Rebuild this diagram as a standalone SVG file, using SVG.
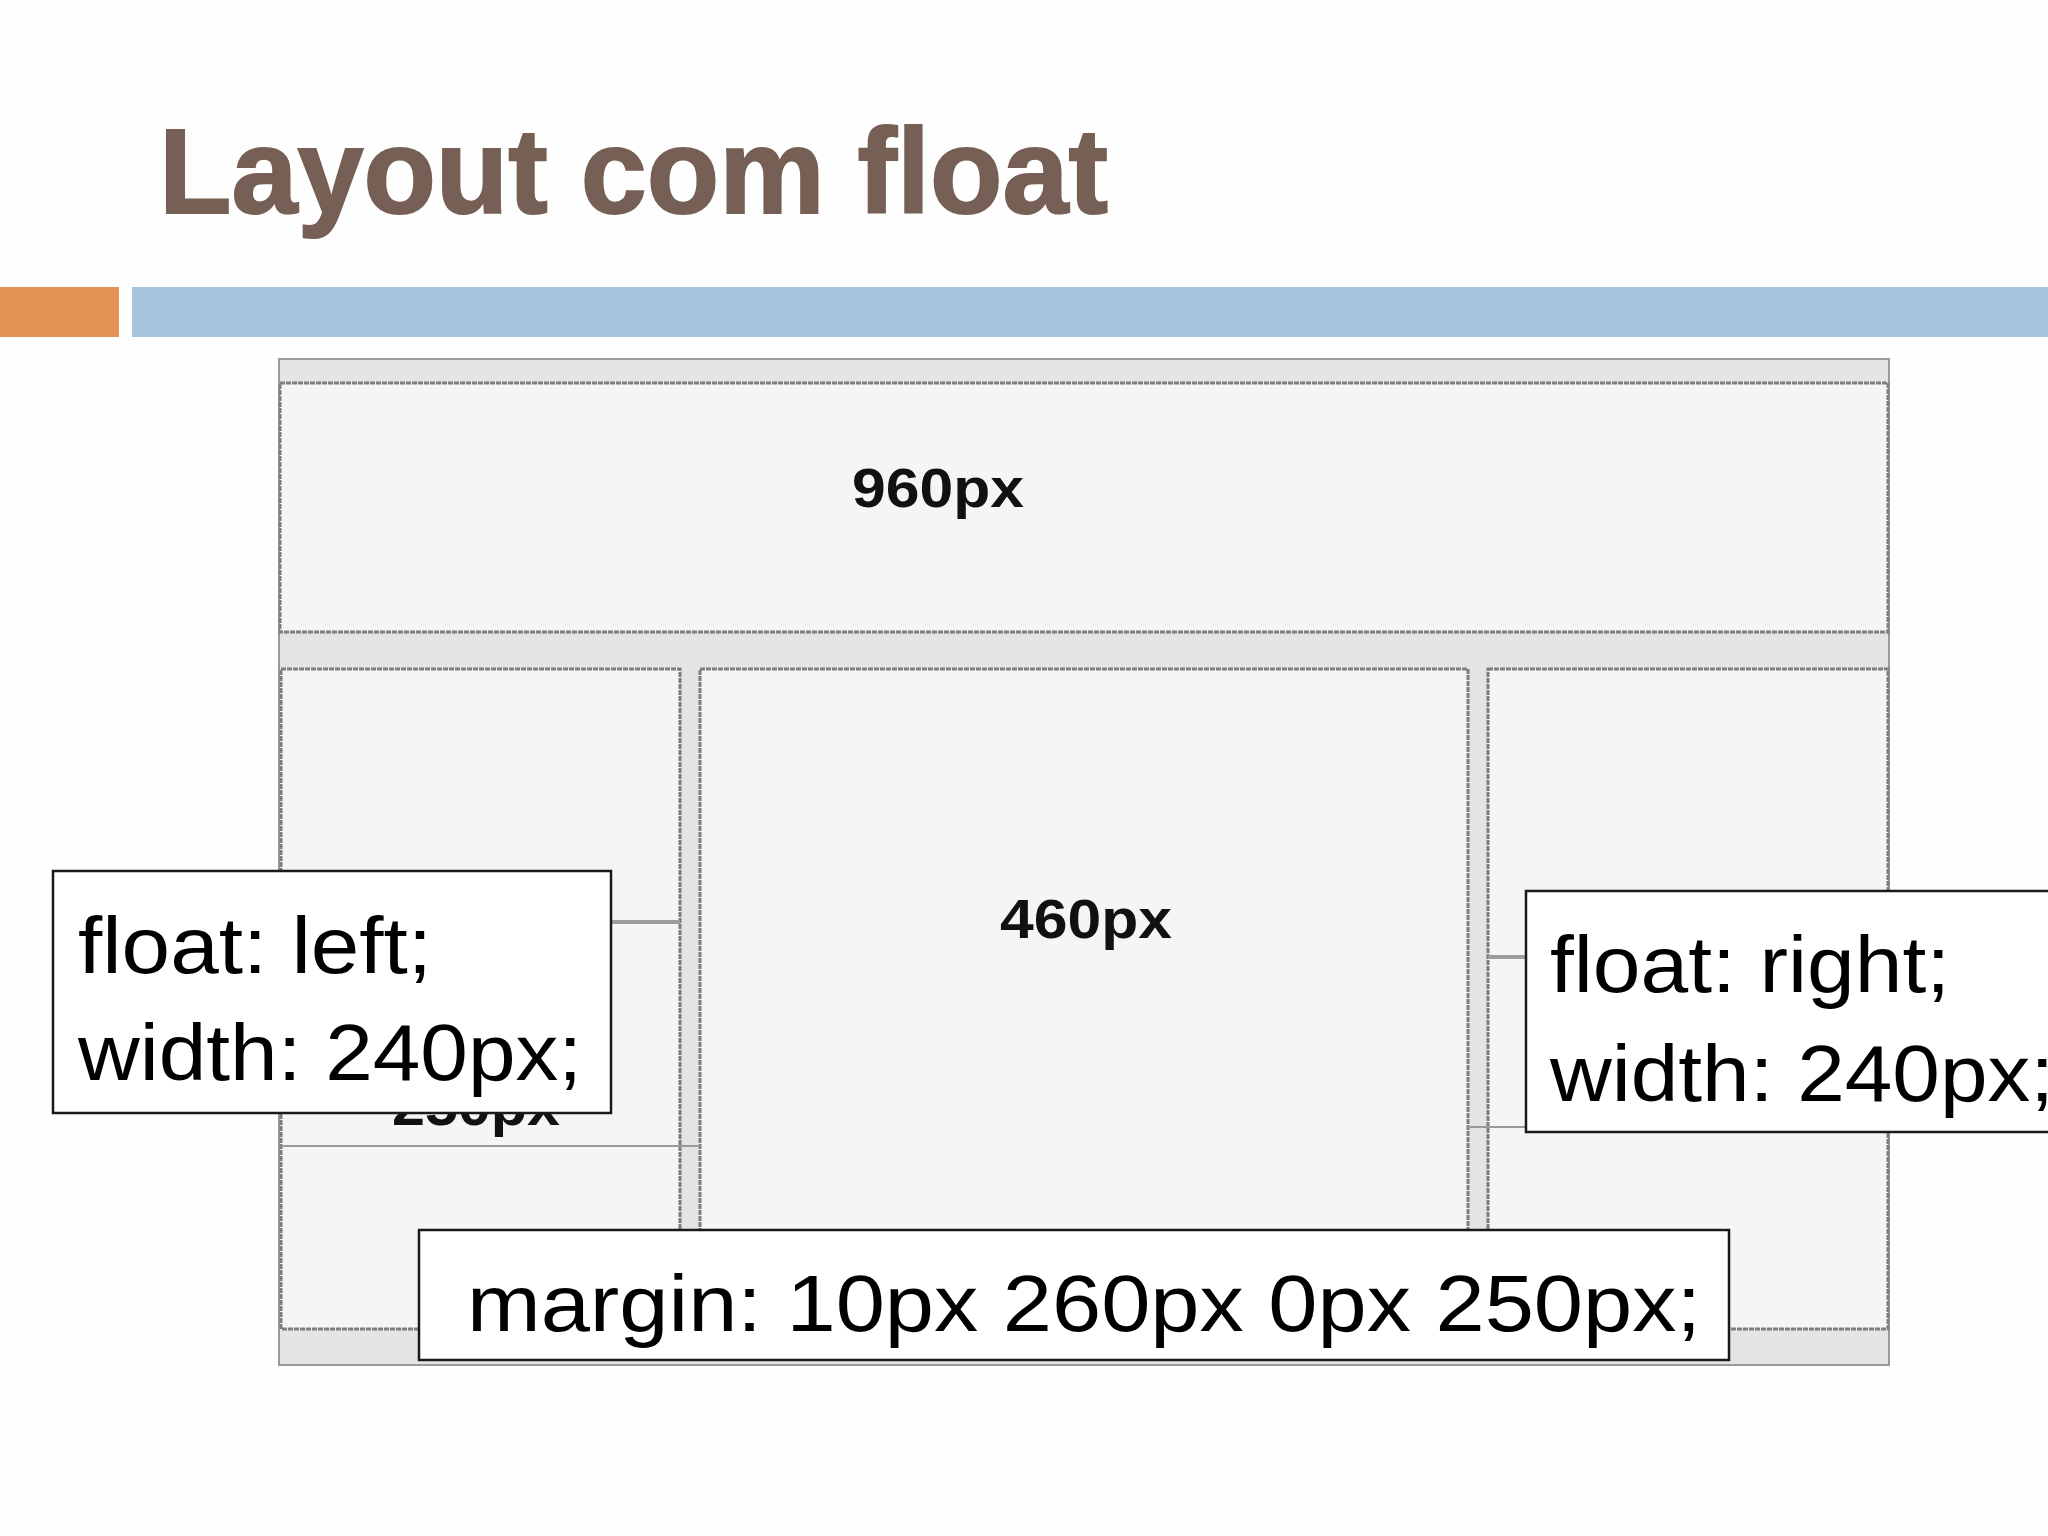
<svg xmlns="http://www.w3.org/2000/svg" width="2048" height="1536" viewBox="0 0 2048 1536">
<style>
.bg{fill:#fefefe}
.strip{fill:#e4e3e6;stroke:#9a9a9a;stroke-width:2}
.box{fill:#f5f4f7;stroke:#7e7e7e;stroke-width:3;stroke-dasharray:5 1}
.size{font-family:"Liberation Sans",Arial,sans-serif;font-weight:bold;font-size:56px;fill:#111}
.note{fill:#ffffff;stroke:#1a1a1a;stroke-width:2.5}
.code{font-family:"Liberation Sans",Arial,sans-serif;font-size:80px;fill:#000}
.thick{stroke:#9c9c9c;stroke-width:4;fill:none}
.thin{stroke:#9a9a9a;stroke-width:2;fill:none}
</style>
<rect class="bg" x="0" y="0" width="2048" height="1536"/>
<g id="title">
<text x="159" y="213" font-family="'Liberation Sans',Arial,sans-serif" font-weight="bold" font-size="120" fill="#765F54" stroke="#765F54" stroke-width="2" textLength="949" lengthAdjust="spacingAndGlyphs">Layout com float</text>
<rect x="0" y="287" width="119" height="50" fill="#E59257"/>
<rect x="132" y="287" width="1916" height="50" fill="#A7C4DD"/>
</g>
<g id="page">
<rect class="strip" x="279" y="359" width="1610" height="1006"/>
</g>
<g id="header">
<rect class="box" x="280" y="383" width="1608" height="249"/>
<text class="size" x="852" y="507" textLength="172" lengthAdjust="spacingAndGlyphs">960px</text>
</g>
<g id="left-column">
<rect class="box" x="281" y="669" width="399" height="660"/>
<text class="size" x="392" y="1125" textLength="168" lengthAdjust="spacingAndGlyphs">250px</text>
</g>
<g id="main-column">
<rect class="box" x="700" y="669" width="768" height="660"/>
<text class="size" x="1000" y="938" textLength="172" lengthAdjust="spacingAndGlyphs">460px</text>
</g>
<g id="right-column">
<rect class="box" x="1488" y="669" width="400" height="660"/>
</g>
<g id="connectors">
<line class="thick" x1="281" y1="922" x2="680" y2="922"/>
<line class="thin" x1="281" y1="1146" x2="700" y2="1146"/>
<line class="thick" x1="1488" y1="957" x2="1530" y2="957"/>
<line class="thin" x1="1468" y1="1127" x2="1530" y2="1127"/>
</g>
<g id="note-float-left">
<rect class="note" x="53" y="871" width="558" height="242"/>
<text class="code" x="78" y="973" textLength="354" lengthAdjust="spacingAndGlyphs">float: left;</text>
<text class="code" x="78" y="1080" textLength="504" lengthAdjust="spacingAndGlyphs">width: 240px;</text>
</g>
<g id="note-float-right">
<rect class="note" x="1526" y="891" width="540" height="241"/>
<text class="code" x="1550" y="992" textLength="400" lengthAdjust="spacingAndGlyphs">float: right;</text>
<text class="code" x="1550" y="1101" textLength="504" lengthAdjust="spacingAndGlyphs">width: 240px;</text>
</g>
<g id="note-margin">
<rect class="note" x="419" y="1230" width="1310" height="130"/>
<text class="code" x="467" y="1331" textLength="1234" lengthAdjust="spacingAndGlyphs">margin: 10px 260px 0px 250px;</text>
</g>
</svg>
